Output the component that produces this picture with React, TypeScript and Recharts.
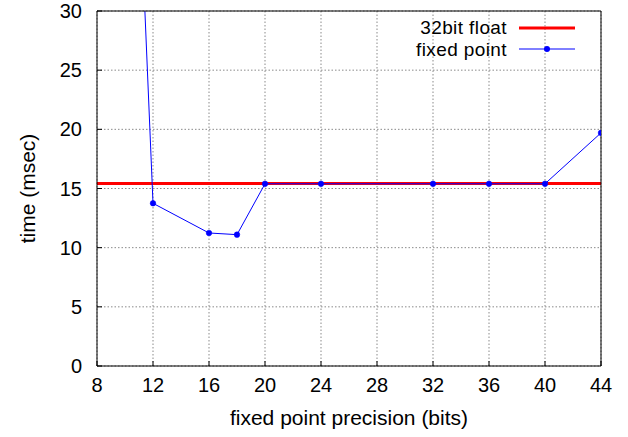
import React from 'react';
import { LineChart, Line, XAxis, YAxis, CartesianGrid, Legend, Label } from 'recharts';

const precisionBits = [8, 12, 16, 18, 20, 24, 32, 36, 40, 44];
const fixedPointMs = [126, 13.75, 11.24, 11.1, 15.4, 15.4, 15.4, 15.4, 15.4, 19.7];
const floatBits = [8, 44];
const floatMs = [15.43, 15.43];
const xTicks = [8, 12, 16, 20, 24, 28, 32, 36, 40, 44];
const yTicks = [0, 5, 10, 15, 20, 25, 30];
const seriesNames = ['32bit float', 'fixed point'];

const fixedData = precisionBits.map((x, i) => ({ x, y: fixedPointMs[i] }));
const floatData = floatBits.map((x, i) => ({ x, y: floatMs[i] }));

const FONT = '"Liberation Sans", Arial, Helvetica, sans-serif';
const FS = 20;
const LFS = 21;
const LEGFS = 19;
const ROWH = 21.5;

const noTick = () => <g />;

const XLabel = (props: any) => {
  const vb = props.viewBox || { x: 0, y: 0, width: 0, height: 0 };
  return (
    <text x={vb.x + vb.width / 2} y={vb.y + 59} textAnchor="middle" fontFamily={FONT} fontSize={LFS} fill="#000">
      fixed point precision (bits)
    </text>
  );
};

const YLabel = (props: any) => {
  const vb = props.viewBox || { x: 0, y: 0, width: 0, height: 0 };
  const cx = vb.x + 27;
  const cy = vb.y + vb.height / 2;
  return (
    <text
      x={cx}
      y={cy}
      transform={`rotate(-90, ${cx}, ${cy})`}
      textAnchor="middle"
      dominantBaseline="central"
      fontFamily={FONT}
      fontSize={LFS}
      fill="#000"
    >
      time (msec)
    </text>
  );
};

const rowStyle: React.CSSProperties = { display: 'flex', alignItems: 'center', height: ROWH };
const textStyle: React.CSSProperties = { flex: 1, textAlign: 'right', lineHeight: `${ROWH}px`, whiteSpace: 'nowrap', letterSpacing: 0.4 };

const renderLegend = () => (
  <div style={{ position: 'absolute', left: 0, top: 0, width: 200, fontFamily: FONT, fontSize: LEGFS, color: '#000' }}>
    <div style={rowStyle}>
      <span style={textStyle}>{seriesNames[0]}</span>
      <svg width={56} height={20} style={{ marginLeft: 12, marginRight: 5 }}>
        <line x1={0} y1={10} x2={56} y2={10} stroke="#ff0000" strokeWidth={3} />
      </svg>
    </div>
    <div style={rowStyle}>
      <span style={textStyle}>{seriesNames[1]}</span>
      <svg width={56} height={20} style={{ marginLeft: 12, marginRight: 5 }}>
        <line x1={0} y1={10} x2={56} y2={10} stroke="#0000ff" strokeWidth={1} />
        <circle cx={28} cy={10} r={3} fill="#0000ff" />
      </svg>
    </div>
  </div>
);

export default function App() {
  return (
    <div style={{ position: 'absolute', left: 0, top: 0, width: 628, height: 437, background: '#fff' }}>
      <LineChart width={628} height={437} margin={{ top: 10, right: 26, bottom: 0, left: 0 }}>
        <CartesianGrid stroke="#8a8a8a" strokeDasharray="1.5 2" />
        <XAxis
          xAxisId={0}
          dataKey="x"
          type="number"
          domain={[8, 44]}
          ticks={xTicks}
          interval={0}
          allowDataOverflow
          height={71}
          tickSize={-5}
          tickMargin={17}
          stroke="#000"
          tick={{ fill: '#000', fontSize: FS, fontFamily: FONT }}
        >
          <Label content={XLabel} />
        </XAxis>
        <XAxis
          xAxisId="top"
          orientation="top"
          dataKey="x"
          type="number"
          domain={[8, 44]}
          ticks={xTicks}
          interval={0}
          height={1}
          tickSize={-5}
          stroke="#000"
          tick={noTick}
        />
        <YAxis
          yAxisId={0}
          type="number"
          domain={[0, 30]}
          ticks={yTicks}
          interval={0}
          allowDataOverflow
          width={97}
          tickSize={-5}
          tickMargin={20}
          stroke="#000"
          tick={{ fill: '#000', fontSize: FS, fontFamily: FONT }}
        >
          <Label content={YLabel} />
        </YAxis>
        <YAxis
          yAxisId="right"
          orientation="right"
          type="number"
          domain={[0, 30]}
          ticks={yTicks}
          interval={0}
          width={1}
          tickSize={-5}
          stroke="#000"
          tick={noTick}
        />
        <Line
          data={floatData}
          dataKey="y"
          name={seriesNames[0]}
          stroke="#ff0000"
          strokeWidth={3}
          dot={false}
          activeDot={false}
          isAnimationActive={false}
        />
        <Line
          data={fixedData}
          dataKey="y"
          name={seriesNames[1]}
          stroke="#0000ff"
          strokeWidth={1}
          dot={{ r: 2.8, fill: '#0000ff', stroke: '#0000ff', strokeWidth: 0.5 }}
          activeDot={false}
          isAnimationActive={false}
        />
        <Legend
          content={renderLegend}
          wrapperStyle={{ position: 'absolute', left: 380, top: 17, width: 0, height: 0, overflow: 'visible' }}
        />
      </LineChart>
    </div>
  );
}
